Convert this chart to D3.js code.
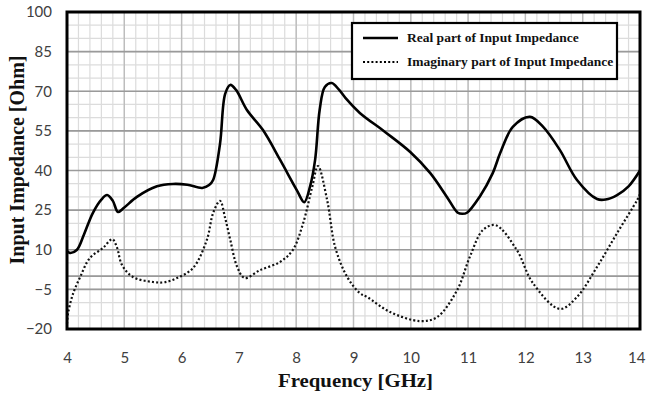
<!DOCTYPE html>
<html><head><meta charset="utf-8">
<script src="https://cdn.jsdelivr.net/npm/d3@7"></script>
<style>body{margin:0;background:#fff}</style>
</head><body>
<svg id="c" width="646" height="396"></svg>
<script>
const freqReal = [4.0, 4.05, 4.17, 4.3, 4.45, 4.6, 4.7, 4.8, 4.89, 5.0, 5.22, 5.57, 5.85, 6.1, 6.36, 6.48, 6.55, 6.67, 6.76, 6.85, 6.95, 7.14, 7.42, 7.72, 8.01, 8.14, 8.24, 8.33, 8.41, 8.5, 8.62, 8.75, 8.89, 9.11, 9.55, 9.99, 10.34, 10.63, 10.82, 10.9, 10.98, 11.2, 11.43, 11.56, 11.78, 12.08, 12.31, 12.6, 12.9, 13.25, 13.4, 13.6, 13.8, 14.0];
const realValues = [9.5, 8.8, 9.9, 16, 23.9, 29, 30.7, 28.5, 24.3, 26, 30, 34, 34.9, 34.6, 33.4, 34.5, 36.4, 50, 69, 72.4, 70.5, 62.9, 55.3, 44, 32.6, 28, 33.8, 44, 63, 71.6, 73.1, 70.5, 66.7, 61.8, 54.6, 47, 39, 30, 24, 23.6, 24, 30, 39, 46.6, 56.5, 60.3, 56.5, 47.8, 36.4, 29.2, 29, 30.7, 34, 40];
const freqImag = [4.0, 4.02, 4.1, 4.23, 4.4, 4.63, 4.79, 4.87, 4.96, 5.15, 5.5, 5.7, 5.92, 6.2, 6.44, 6.55, 6.67, 6.76, 6.85, 6.97, 7.1, 7.37, 7.72, 7.94, 8.12, 8.28, 8.38, 8.54, 8.68, 8.89, 9.11, 9.24, 9.64, 10.16, 10.46, 10.81, 11.03, 11.26, 11.48, 11.85, 12.13, 12.6, 12.9, 13.25, 13.6, 13.95, 14.0];
const imagValues = [-18, -13.9, -7, -0.3, 6.9, 10.7, 14, 11, 4.2, -0.3, -2.2, -2.3, -0.7, 3.1, 13.7, 23.9, 28.5, 22, 13.7, 3.5, -0.7, 2.3, 5.4, 9.9, 20, 33.8, 41.7, 28.8, 11, -0.3, -6.4, -7.9, -13.6, -17, -15.5, -5.2, 7.3, 17.5, 19.3, 9.9, -2.6, -12.4, -7.9, 3.5, 16.3, 28.8, 31];
const xTicks = [4, 5, 6, 7, 8, 9, 10, 11, 12, 13, 14];
const yTicks = [-20, -5, 10, 25, 40, 55, 70, 85, 100];
const seriesNames = ["Real part of Input Impedance", "Imaginary part of Input Impedance"];

const svg = d3.select("#c");
const L = 67, R = 640, T = 12, B = 329;
const x = d3.scaleLinear().domain([4, 14]).range([L, R]);
const y = d3.scaleLinear().domain([-20, 100]).range([B, T]);

const g = svg.append("g");
// minor grid
const minorX = d3.range(4, 14.0001, 0.2);
const minorY = d3.range(-20, 100.0001, 5);
g.selectAll(".mx").data(minorX).enter().append("line")
  .attr("x1", d => x(d)).attr("x2", d => x(d)).attr("y1", T).attr("y2", B)
  .attr("stroke", "#dcdcdc").attr("stroke-width", 1.2);
g.selectAll(".my").data(minorY).enter().append("line")
  .attr("y1", d => y(d)).attr("y2", d => y(d)).attr("x1", L).attr("x2", R)
  .attr("stroke", "#dcdcdc").attr("stroke-width", 1.2);
// major vertical
g.selectAll(".Mx").data(xTicks).enter().append("line")
  .attr("x1", d => x(d)).attr("x2", d => x(d)).attr("y1", T).attr("y2", B)
  .attr("stroke", "#bdbdbd").attr("stroke-width", 1.4);
// major horizontal
g.selectAll(".My").data(yTicks.concat([0])).enter().append("line")
  .attr("y1", d => y(d)).attr("y2", d => y(d)).attr("x1", L).attr("x2", R)
  .attr("stroke", "#9a9a9a").attr("stroke-width", 1.6);

// axes labels via d3 axes
const xAxis = svg.append("g").attr("transform", `translate(0,${B})`)
  .call(d3.axisBottom(x).tickValues(xTicks).tickFormat(d3.format("d")).tickSize(0).tickPadding(23));
xAxis.select(".domain").remove();
xAxis.selectAll("text").attr("font-family", "Lato, 'Open Sans', sans-serif").attr("font-size", 15).attr("fill", "#404040");
xAxis.selectAll(".tick").filter(d => d === 14).select("text").attr("text-anchor", "end").attr("x", 645 - x(14));

const yAxis = svg.append("g").attr("transform", `translate(${L},0)`)
  .call(d3.axisLeft(y).tickValues(yTicks).tickFormat(d3.format("d")).tickSize(0).tickPadding(15));
yAxis.select(".domain").remove();
yAxis.selectAll("text").attr("font-family", "Lato, 'Open Sans', sans-serif").attr("font-size", 15).attr("fill", "#404040");

// curves
const line = d3.line().x(d => x(d[0])).y(d => y(d[1])).curve(d3.curveCatmullRom.alpha(0.5));
const realData = freqReal.map((f, i) => [f, realValues[i]]);
const imagData = freqImag.map((f, i) => [f, imagValues[i]]);
svg.append("path").datum(realData).attr("d", line)
  .attr("fill", "none").attr("stroke", "#000").attr("stroke-width", 2.6).attr("stroke-linejoin", "round");
svg.append("path").datum(imagData).attr("d", line)
  .attr("fill", "none").attr("stroke", "#111").attr("stroke-width", 2.2).attr("stroke-dasharray", "2,2.2");

// frame
svg.append("rect").attr("x", L).attr("y", T).attr("width", R - L).attr("height", B - T)
  .attr("fill", "none").attr("stroke", "#000").attr("stroke-width", 3);

// legend
const lg = svg.append("g");
lg.append("rect").attr("x", 352).attr("y", 23).attr("width", 265).attr("height", 56)
  .attr("fill", "#fff").attr("stroke", "#000").attr("stroke-width", 2.2);
const lgY = [38, 62];
lg.append("line").attr("x1", 363).attr("x2", 398).attr("y1", lgY[0]).attr("y2", lgY[0])
  .attr("stroke", "#000").attr("stroke-width", 2.6);
lg.append("line").attr("x1", 363).attr("x2", 398).attr("y1", lgY[1]).attr("y2", lgY[1])
  .attr("stroke", "#000").attr("stroke-width", 2.2).attr("stroke-dasharray", "2,2.2");
lg.selectAll("text").data(seriesNames).enter().append("text")
  .attr("x", 407).attr("y", (d, i) => lgY[i] + 4)
  .attr("font-family", "'Liberation Serif', 'Times New Roman', serif").attr("font-weight", "bold")
  .attr("font-size", 13.5).attr("fill", "#111").text(d => d);

// titles
svg.append("text").attr("x", 355.5).attr("y", 387).attr("text-anchor", "middle")
  .attr("font-family", "'Liberation Serif', 'Times New Roman', serif").attr("font-weight", "bold")
  .attr("font-size", 19.5).attr("fill", "#111")
  .attr("textLength", 155).attr("lengthAdjust", "spacingAndGlyphs").text("Frequency [GHz]");
svg.append("text").attr("transform", `translate(24,160) rotate(-90)`).attr("text-anchor", "middle")
  .attr("font-family", "'Liberation Serif', 'Times New Roman', serif").attr("font-weight", "bold")
  .attr("font-size", 20).attr("fill", "#111").text("Input Impedance [Ohm]");
</script>
</body></html>
